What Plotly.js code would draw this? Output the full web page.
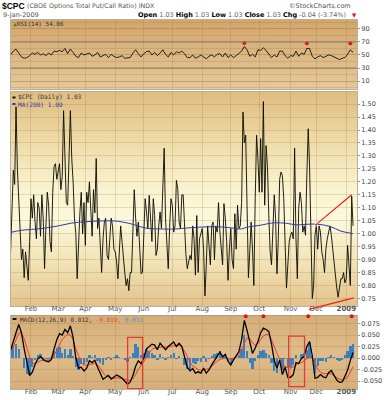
<!DOCTYPE html>
<html><head><meta charset="utf-8">
<script src="https://cdn.plot.ly/plotly-3.0.1.min.js"></script>
<style>html,body{margin:0;padding:0;background:#fff;}#chart{width:388px;height:400px;}</style>
</head><body><div id="chart"></div>
<script>
// ---- DATA (trading-day index 0 = 10-Jan-2008 ... 252 = 9-Jan-2009) ----
const cpc = [
0.93,1.08,1.245,1.19,1.49,1.25,1.12,1.01,0.90,0.94,
0.83,0.93,0.87,0.82,0.97,1.135,1.06,1.15,1.045,0.98,
1.12,1.10,0.99,1.15,1.06,0.865,1.03,1.16,1.11,0.97,
0.93,1.16,1.26,1.27,1.21,1.24,1.27,1.17,1.22,1.475,
1.29,1.12,1.11,1.30,1.475,1.29,1.20,1.06,1.00,0.826,
0.99,1.08,1.16,1.00,1.12,0.955,1.16,1.12,1.20,1.06,
0.99,1.17,1.08,1.29,1.02,1.06,0.93,0.85,0.98,1.045,
1.06,0.916,0.90,1.006,1.06,1.03,0.94,0.93,0.89,0.826,
0.94,1.03,0.97,0.90,0.85,0.80,0.826,0.78,0.85,0.85,
1.006,1.17,1.06,0.99,1.045,0.93,0.845,0.85,1.02,1.135,
1.084,1.02,1.148,1.06,0.97,1.135,1.07,0.916,0.94,1.03,
1.084,1.02,1.16,1.33,1.06,0.98,0.865,1.02,1.135,1.11,
1.006,1.03,1.206,1.174,1.045,1.02,1.15,1.15,1.03,0.92,
0.865,0.90,0.916,0.90,1.03,0.98,0.84,1.07,0.85,0.98,
1.006,1.02,0.94,0.76,0.88,1.03,0.955,0.88,1.03,1.045,
0.90,1.03,1.006,1.12,1.006,0.955,0.88,1.116,1.06,0.97,
0.82,0.94,1.02,0.90,0.865,1.077,0.94,1.11,1.02,1.03,
1.12,1.47,1.35,1.38,1.10,0.83,0.93,1.045,0.94,0.80,
1.135,1.38,1.29,1.16,1.367,1.16,1.51,1.11,1.34,1.26,
1.07,0.93,0.88,1.03,1.15,1.058,0.845,0.98,1.21,1.238,
1.225,1.135,0.93,0.79,0.88,0.97,0.994,1.006,0.98,1.33,
0.98,0.826,1.097,1.16,1.12,1.006,1.03,0.994,1.225,1.405,
1.26,0.93,0.75,0.80,0.994,1.035,0.94,1.03,1.006,0.93,
0.90,0.85,0.94,0.98,1.006,1.03,0.994,0.94,0.89,0.826,
0.79,0.755,0.80,0.826,0.826,0.85,0.81,0.826,0.955,0.85,
0.80,1.145,1.03];

const maDay = [0,8,23,35,45,55,66,77,87,92,99,111,121,130,139,151,163,169,175,183,194,203,210,217,225,235,243,249,252];
const maVal = [1.005,1.013,1.020,1.030,1.041,1.046,1.049,1.049,1.040,1.033,1.022,1.018,1.018,1.022,1.025,1.027,1.022,1.018,1.026,1.032,1.042,1.040,1.034,1.036,1.037,1.028,1.010,1.003,1.000];

// every second trading day
const rsi = [
50,56,59,52,47,45,46,49,53,51,
54,50,52,49,53,50,56,55,57,55,
60,52,59,54,48,46,53,50,52,53,
48,50,54,47,49,51,46,51,48,46,
47,49,45,45,46,53,58,52,47,52,
55,56,50,54,49,53,58,51,47,54,
50,55,53,56,52,46,46,50,45,47,
50,47,44,48,50,47,51,52,47,53,
46,50,46,49,53,56,63,58,48,51,
47,58,57,61,57,52,46,50,47,56,
56,49,45,49,48,56,48,53,51,60,
60,48,44,47,49,46,48,50,49,47,
44,43,45,46,51,58,54.06];

const macd = [
0.017,0.034,0.055,0.073,0.055,0.020,-0.012,-0.038,-0.031,-0.014,
-0.002,0.003,-0.003,-0.007,-0.008,-0.003,0.020,0.040,0.053,0.050,
0.062,0.055,0.070,0.045,0.000,-0.022,-0.020,-0.028,-0.022,-0.006,
-0.010,-0.005,-0.020,-0.032,-0.046,-0.042,-0.038,-0.046,-0.042,-0.037,
-0.040,-0.044,-0.050,-0.057,-0.052,-0.038,-0.018,-0.006,-0.012,0.000,
0.020,0.026,0.030,0.028,0.018,0.032,0.025,0.018,0.025,0.030,
0.035,0.025,0.032,0.025,0.000,-0.020,-0.028,-0.023,-0.033,-0.030,
-0.033,-0.022,-0.033,-0.026,-0.015,-0.005,0.003,0.013,0.003,0.008,
-0.007,-0.015,-0.004,0.006,0.014,0.040,0.082,0.060,0.032,0.010,
0.022,0.036,0.055,0.065,0.062,0.058,0.030,-0.005,-0.022,-0.004,
-0.036,-0.020,-0.042,-0.042,-0.036,-0.010,-0.012,-0.001,0.003,0.025,
0.036,0.005,-0.044,-0.042,-0.036,-0.041,-0.043,-0.032,-0.027,-0.037,
-0.048,-0.053,-0.052,-0.040,-0.026,-0.005,0.012];

const signal = [
0.014,0.025,0.040,0.054,0.055,0.042,0.022,0.002,-0.012,-0.012,
-0.009,-0.006,-0.005,-0.005,-0.005,-0.004,0.006,0.018,0.030,0.040,
0.047,0.051,0.050,0.040,0.020,0.004,-0.010,-0.015,-0.016,-0.014,
-0.013,-0.012,-0.015,-0.022,-0.032,-0.038,-0.041,-0.043,-0.044,-0.043,
-0.043,-0.044,-0.046,-0.048,-0.049,-0.045,-0.036,-0.024,-0.017,-0.008,
0.004,0.012,0.019,0.022,0.023,0.024,0.024,0.024,0.024,0.025,
0.027,0.028,0.028,0.025,0.016,0.004,-0.010,-0.017,-0.021,-0.025,
-0.027,-0.026,-0.025,-0.023,-0.018,-0.012,-0.007,-0.003,-0.001,0.000,
-0.001,-0.003,0.000,0.002,0.008,0.020,0.032,0.044,0.042,0.033,
0.028,0.031,0.040,0.048,0.051,0.051,0.040,0.024,0.010,-0.002,
-0.011,-0.019,-0.020,-0.022,-0.019,-0.015,-0.012,-0.010,-0.005,-0.002,
0.002,0.000,-0.012,-0.024,-0.031,-0.034,-0.034,-0.034,-0.034,-0.039,
-0.043,-0.046,-0.048,-0.046,-0.042,-0.032,-0.019];

const hist = [
0.018,0.028,0.030,0.020,0.000,-0.022,-0.034,-0.038,-0.020,-0.004,
0.006,0.008,0.002,-0.002,-0.003,0.002,0.015,0.022,0.023,0.012,
0.020,0.006,0.020,0.004,-0.020,-0.027,-0.012,-0.014,-0.008,0.006,
0.002,0.006,-0.006,-0.010,-0.015,-0.005,0.002,-0.004,0.002,0.006,
0.003,-0.001,-0.004,-0.008,0.002,0.012,0.030,0.025,0.006,0.010,
0.020,0.016,0.012,0.007,-0.004,0.009,0.002,-0.005,0.002,0.006,
0.010,-0.002,0.005,0.000,-0.016,-0.024,-0.026,-0.010,-0.014,-0.006,
-0.008,0.004,-0.008,-0.003,0.004,0.008,0.010,0.016,0.005,0.008,
-0.006,-0.012,-0.004,0.004,0.006,0.020,0.050,0.016,-0.010,-0.023,
-0.006,0.006,0.015,0.017,0.011,0.007,-0.010,-0.029,-0.032,-0.002,
-0.025,-0.002,-0.022,-0.020,-0.016,0.006,0.001,0.009,0.010,0.018,
0.032,0.005,-0.032,-0.018,-0.006,-0.007,-0.009,0.002,0.007,0.002,
-0.005,-0.007,-0.004,0.006,0.016,0.027,0.031];

const monthDay = [15,35,55,77,98,119,141,162,183,206,225,247];
const monthLabel = ['Feb','Mar','Apr','May','Jun','Jul','Aug','Sep','Oct','Nov','Dec','<b>2009</b>'];
const rsiTicks = [10,30,50,70,90];
const rsiTickText = ['10','30','50','70','90'];
const pxTicks = [0.75,0.80,0.85,0.90,0.95,1.00,1.05,1.10,1.15,1.20,1.25,1.30,1.35,1.40,1.45,1.50];
const pxTickText = ['0.75','0.80','0.85','0.90','0.95','1.00','1.05','1.10','1.15','1.20','1.25','1.30','1.35','1.40','1.45','1.50'];
const macdTicks = [-0.05,-0.025,0,0.025,0.05,0.075];
const macdTickText = ['-0.050','-0.025','0.000','0.025','0.050','0.075'];
const rsiMarkDay = [172,218,250], rsiMarkVal = [68.5,68,68];
const macdMarkDay = [173,186,219,251], macdMarkVal = [0.091,0.091,0.091,0.091];
const trendDay = [224.7,251], trendVal = [1.035,1.15];
const lowTrendDay = [219.5,252.5], lowTrendVal = [0.708,0.752];

// ---- GEOMETRY ----
const W=388,H=400,ML=11,MR=31,MT=20,MB=11,PW=W-ML-MR,PH=H-MT-MB;
const XR=[0.3,254.9];
const dRSI=[0.813,1], dPX=[0.225,0.805], dMACD=[0,0.199];
const rRSI=[-2.3,103.8], rPX=[0.721,1.547], rMACD=[-0.0674,0.0924];
const px = p => (p-ML)/PW, py = p => (H-MB-p)/PH;
const dayToPaper = d => (d-XR[0])/(XR[1]-XR[0]);
const pxToPaper = v => dPX[0] + (v-rPX[0])/(rPX[1]-rPX[0])*(dPX[1]-dPX[0]);

const day = cpc.map((_,i)=>i);
const day2 = rsi.map((_,k)=>2*k);

function grad(stops){
  const c=document.createElement('canvas'); c.width=2; c.height=256;
  const g=c.getContext('2d'); const lg=g.createLinearGradient(0,0,0,256);
  stops.forEach(s=>lg.addColorStop(s[0],s[1])); g.fillStyle=lg; g.fillRect(0,0,2,256);
  return c.toDataURL('image/png');
}
function bgImg(src,d){return {source:src,xref:'paper',yref:'paper',x:0,y:d[1],sizex:1,sizey:d[1]-d[0],sizing:'stretch',xanchor:'left',yanchor:'top',layer:'below'};}

const FONT='DejaVu Sans', MONO='DejaVu Sans Mono';
const GRID='rgba(150,115,60,0.22)';
function xax(anchor,labels,standoff){return {domain:[0,1],anchor:anchor,range:XR,tickmode:'array',tickvals:monthDay,ticktext:monthLabel,
  showticklabels:labels,ticks:'',ticklabelstandoff:standoff,showgrid:true,gridcolor:GRID,gridwidth:1,zeroline:false,showline:true,mirror:true,
  linecolor:'rgba(120,95,60,0.5)',linewidth:1,tickfont:{family:FONT,size:7,color:'#555'},fixedrange:true};}
function yax(anchor,dom,rng,tv,tt){return {domain:dom,anchor:anchor,range:rng,side:'right',tickmode:'array',tickvals:tv,ticktext:tt,
  ticks:'outside',ticklen:2,tickcolor:'#999',showgrid:true,gridcolor:GRID,zeroline:false,showline:true,mirror:true,
  linecolor:'rgba(120,95,60,0.5)',tickfont:{family:FONT,size:6.5,color:'#444'},fixedrange:true};}

const traces = [
 {x:day2,y:rsi,xaxis:'x',yaxis:'y',type:'scatter',mode:'lines',line:{color:'#111',width:0.9},hoverinfo:'skip'},
 {x:rsiMarkDay,y:rsiMarkVal,xaxis:'x',yaxis:'y',type:'scatter',mode:'markers',marker:{color:'#e01010',size:4},cliponaxis:false},
 {x:day,y:cpc,xaxis:'x2',yaxis:'y2',type:'scatter',mode:'lines',line:{color:'rgba(10,10,0,0.9)',width:1},hoverinfo:'skip'},
 {x:maDay,y:maVal,xaxis:'x2',yaxis:'y2',type:'scatter',mode:'lines',line:{color:'#3535a5',width:1,shape:'spline'}},
 {x:trendDay,y:trendVal,xaxis:'x2',yaxis:'y2',type:'scatter',mode:'lines+markers',line:{color:'#ee2020',width:1.2},marker:{size:[3,0],color:'#ee2020'}},
 {x:day2,y:hist,xaxis:'x3',yaxis:'y3',type:'bar',width:1.7,marker:{color:'#3c80be',line:{width:0}}},
 {x:day2,y:signal,xaxis:'x3',yaxis:'y3',type:'scatter',mode:'lines',line:{color:'#ef3a2a',width:1}},
 {x:day2,y:macd,xaxis:'x3',yaxis:'y3',type:'scatter',mode:'lines',line:{color:'#000',width:1.3}},
 {x:macdMarkDay,y:macdMarkVal,xaxis:'x3',yaxis:'y3',type:'scatter',mode:'markers',marker:{color:'#e01010',size:4},cliponaxis:false}
];

function ann(text,x,y,o){o=o||{};return {xref:'paper',yref:'paper',x:px(x),y:py(y),text:text,showarrow:false,
  xanchor:o.xa||'left',yanchor:'middle',font:{family:o.f||FONT,size:o.s||6.5,color:o.c||'#555'}};}
function seg(x0,x1,y,col){return {type:'line',xref:'paper',yref:'paper',x0:px(x0),x1:px(x1),y0:py(y),y1:py(y),line:{color:col,width:2}};}

const annotations = [
 ann('<b>$CPC</b>',0,6,{f:'Liberation Sans',s:8.5,c:'#000'}),
 ann('(CBOE Options Total Put/Call Ratio) INDX',25,6.5,{s:6.3,c:'#555'}),
 ann('©StockCharts.com',353,6.5,{xa:'right',s:6.5,c:'#555'}),
 ann('9-Jan-2009',0.5,15.5,{s:6.5,c:'#555'}),
 ann('<b style="color:#000">Open</b> 1.03 <b style="color:#000">High</b> 1.03 <b style="color:#000">Low</b> 1.03 <b style="color:#000">Close</b> 1.03 <b style="color:#000">Chg</b> -0.04 (-3.74%)',348,15.5,{xa:'right',s:6.5,c:'#666'}),
 ann('▼',349.5,15.5,{s:5.5,c:'#e01010'}),
 ann('<span style="color:#2e8b2e">▲</span>RSI(14) 54.06',10.5,23.5,{f:MONO,s:6,c:'#333'}),
 ann('$CPC (Daily) 1.03',16,97.5,{f:MONO,s:6.2,c:'#333'}),
 ann('MA(200) 1.00',16,104,{f:MONO,s:6.2,c:'#3a3aa8'}),
 ann('MACD(12,26,9) 0.012, <span style="color:#e84a3a">-0.019,</span> <span style="color:#5b8ec4">0.031</span>',18,319,{f:MONO,s:6,c:'#333'})
];

const shapes = [
 {type:'line',xref:'paper',yref:'y',x0:0,x1:1,y0:70,y1:70,line:{color:'#8a7e6e',width:1}},
 {type:'line',xref:'paper',yref:'y',x0:0,x1:1,y0:30,y1:30,line:{color:'#8a7e6e',width:1}},
 seg(12.5,15.5,97.5,'#111'), seg(12.5,15.5,104,'#3535a5'), seg(12.5,16.5,319,'#111'),
 {type:'line',xref:'paper',yref:'paper',x0:dayToPaper(lowTrendDay[0]),x1:dayToPaper(lowTrendDay[1]),
   y0:pxToPaper(lowTrendVal[0]),y1:pxToPaper(lowTrendVal[1]),line:{color:'#ee2020',width:1.2}},
 {type:'rect',xref:'x3',yref:'y3',x0:86.1,x1:97.1,y0:-0.0665,y1:0.045,line:{color:'#e83a2e',width:1.3}},
 {type:'rect',xref:'x3',yref:'y3',x0:204.6,x1:216.3,y0:-0.0624,y1:0.0478,line:{color:'#e83a2e',width:1.3}}
];

const layout = {
  width:W,height:H,margin:{l:ML,r:MR,t:MT,b:MB,pad:0},showlegend:false,
  paper_bgcolor:'#ffffff',plot_bgcolor:'rgba(0,0,0,0)',bargap:0,
  font:{family:FONT,size:7,color:'#444'},
  xaxis:xax('y',false,0), xaxis2:xax('y2',true,-4), xaxis3:xax('y3',true,-4),
  yaxis:Object.assign(yax('x',dRSI,rRSI,rsiTicks,rsiTickText),{minor:{dtick:10,tick0:0,showgrid:true,gridcolor:GRID,ticks:''}}),
  yaxis2:yax('x2',dPX,rPX,pxTicks,pxTickText),
  yaxis3:yax('x3',dMACD,rMACD,macdTicks,macdTickText),
  images:[
    bgImg(grad([[0,'#d2a66c'],[1,'#e6c99a']]),dRSI),
    bgImg(grad([[0,'#e0bc82'],[0.22,'#eedaa6'],[0.45,'#faf3d0'],[0.6,'#fcf9dc'],[0.8,'#f2e3b6'],[1,'#e3c28c']]),dPX),
    bgImg(grad([[0,'#d5ad77'],[0.5,'#dfbd8b'],[1,'#d6ae79']]),dMACD)
  ],
  annotations:annotations, shapes:shapes
};
Plotly.newPlot('chart',traces,layout,{displayModeBar:false,staticPlot:true});
</script></body></html>
